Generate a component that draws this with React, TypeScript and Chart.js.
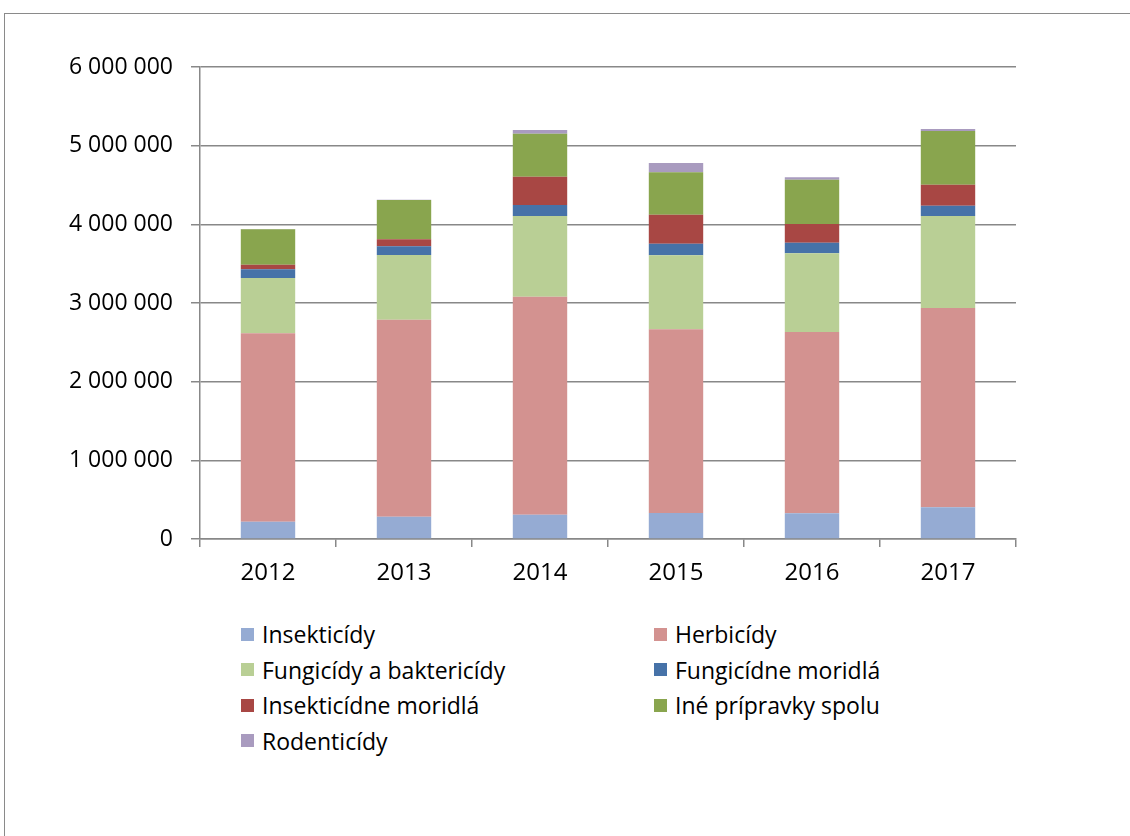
import React, { useEffect, useRef } from "react";
import { Chart, registerables } from "chart.js";

Chart.register(...registerables);

const years = ["2012", "2013", "2014", "2015", "2016", "2017"];

const insekticidy = [220000, 283000, 309000, 330000, 327000, 403000];
const herbicidy = [2395000, 2505000, 2771000, 2336000, 2304000, 2533000];
const fungicidy = [703000, 822000, 1026000, 940000, 1001000, 1170000];
const fungicidneMoridla = [110000, 111000, 140000, 148000, 134000, 131000];
const insekticidneMoridla = [59000, 89000, 359000, 368000, 238000, 267000];
const inePripravky = [450000, 499000, 547000, 539000, 563000, 682000];
const rodenticidy = [5000, 4000, 47000, 119000, 31000, 26000];

const seriesNames = [
  "Insekticídy",
  "Herbicídy",
  "Fungicídy a baktericídy",
  "Fungicídne moridlá",
  "Insekticídne moridlá",
  "Iné prípravky spolu",
  "Rodenticídy",
];
const seriesData = [
  insekticidy,
  herbicidy,
  fungicidy,
  fungicidneMoridla,
  insekticidneMoridla,
  inePripravky,
  rodenticidy,
];
const seriesColors = [
  "#95ABD3",
  "#D39290",
  "#B9CF95",
  "#4672A8",
  "#A84744",
  "#89A54E",
  "#A99BBF",
];

const yTicks = [0, 1000000, 2000000, 3000000, 4000000, 5000000, 6000000];

const FONT = "'Open Sans', 'Noto Sans', sans-serif";
const GRID = "#888888";

function fmt(v: number): string {
  return String(v).replace(/\B(?=(\d{3})+(?!\d))/g, " ");
}

export default function App() {
  const ref = useRef<HTMLCanvasElement | null>(null);

  useEffect(() => {
    if (!ref.current) return;
    const chart = new Chart(ref.current, {
      type: "bar",
      data: {
        labels: years,
        datasets: seriesNames.map((name, i) => ({
          label: name,
          data: seriesData[i],
          backgroundColor: seriesColors[i],
          borderWidth: 0,
          categoryPercentage: 1,
          barPercentage: 0.4,
        })),
      },
      options: {
        responsive: false,
        animation: false,
        devicePixelRatio: 1,
        layout: { padding: { left: 0, top: 67, right: 114, bottom: 0 } },
        plugins: {
          legend: { display: false },
          tooltip: { enabled: false },
          title: { display: false },
        },
        scales: {
          x: {
            stacked: true,
            grid: {
              display: true,
              drawOnChartArea: false,
              drawTicks: true,
              tickLength: 8,
              color: GRID,
              lineWidth: 1.5,
            },
            border: { display: true, color: GRID, width: 1.5 },
            ticks: {
              color: "#000",
              font: { family: FONT, size: 24 },
              padding: 12,
            },
            afterFit: (s: any) => {
              s.height = 61;
            },
          },
          y: {
            stacked: true,
            min: 0,
            max: 6000000,
            afterBuildTicks: (s: any) => {
              s.ticks = yTicks.map((v) => ({ value: v }));
            },
            grid: {
              color: GRID,
              lineWidth: 1.5,
              drawTicks: true,
              tickLength: 9,
            },
            border: { display: true, color: GRID, width: 1.5 },
            ticks: {
              color: "#000",
              font: { family: FONT, size: 23 },
              padding: 18,
              callback: (v: any) => fmt(Number(v)),
            },
            afterFit: (s: any) => {
              s.width = 200;
            },
          },
        },
      },
    });
    return () => chart.destroy();
  }, []);

  const legendRows: number[][] = [];
  for (let i = 0; i < seriesNames.length; i += 2) {
    legendRows.push([i, i + 1].filter((k) => k < seriesNames.length));
  }

  return (
    <div
      style={{
        position: "fixed",
        left: 0,
        top: 0,
        width: 1130,
        height: 836,
        overflow: "hidden",
        background: "#fff",
      }}
    >
      <div
        style={{
          position: "absolute",
          left: 4,
          top: 13,
          width: 1200,
          height: 900,
          border: "1.5px solid #8a8a8a",
          boxSizing: "border-box",
        }}
      />
      <canvas
        ref={ref}
        width={1130}
        height={600}
        style={{ position: "absolute", left: 0, top: 0, width: 1130, height: 600 }}
      />
      {legendRows.map((row, r) =>
        row.map((k, c) => (
          <div
            key={k}
            style={{
              position: "absolute",
              left: c === 0 ? 241 : 654,
              top: 634 + r * 35.5 - 15,
              height: 30,
              display: "flex",
              alignItems: "center",
              fontFamily: FONT,
              fontSize: 23,
              color: "#000",
              whiteSpace: "nowrap",
            }}
          >
            <span
              style={{
                display: "inline-block",
                width: 13,
                height: 13,
                background: seriesColors[k],
                marginRight: 8,
              }}
            />
            <span>{seriesNames[k]}</span>
          </div>
        ))
      )}
    </div>
  );
}
